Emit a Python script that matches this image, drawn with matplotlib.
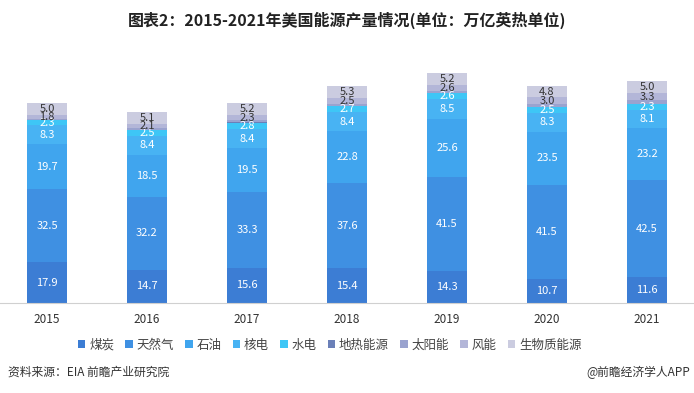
import numpy as np
import matplotlib
matplotlib.use('Agg')
import matplotlib.pyplot as plt

plt.rcParams['font.family'] = ['Noto Sans CJK SC', 'DejaVu Sans']

years = ['2015', '2016', '2017', '2018', '2019', '2020', '2021']
sources = ['煤炭', '天然气', '石油', '核电', '水电', '地热能源', '太阳能', '风能', '生物质能源']
coal = [17.9, 14.7, 15.6, 15.4, 14.3, 10.7, 11.6]
gas = [32.5, 32.2, 33.3, 37.6, 41.5, 41.5, 42.5]
oil = [19.7, 18.5, 19.5, 22.8, 25.6, 23.5, 23.2]
nuclear = [8.3, 8.4, 8.4, 8.4, 8.5, 8.3, 8.1]
hydro = [2.3, 2.5, 2.8, 2.7, 2.6, 2.5, 2.3]
geothermal = [0.2, 0.2, 0.2, 0.2, 0.2, 0.2, 0.2]
solar = [0.4, 0.6, 0.8, 0.9, 1.0, 1.2, 1.6]
wind = [1.8, 2.1, 2.3, 2.5, 2.6, 3.0, 3.3]
biomass = [5.0, 5.1, 5.2, 5.3, 5.2, 4.8, 5.0]

series = [coal, gas, oil, nuclear, hydro, geothermal, solar, wind, biomass]
colors = ['#3c7dd4', '#3f90e2', '#40a5ee', '#48b3f3', '#3ec6f6',
          '#6b80b8', '#9aa3cf', '#b3b6d8', '#cbcce0']
show_label = [True, True, True, True, True, False, False, True, True]
label_color = ['white', 'white', 'white', 'white', 'white', 'white', 'white', '#333333', '#333333']

fig = plt.figure(figsize=(6.94, 3.93), dpi=100)
ax = fig.add_axes([0, 0.229, 1, 0.634])

x = np.arange(len(years))
bottom = np.zeros(len(years))
for name, vals, c, show, lc in zip(sources, series, colors, show_label, label_color):
    vals = np.array(vals)
    ax.bar(x, vals, 0.4, bottom=bottom, color=c, label=name)
    if show:
        for xi, b, v in zip(x, bottom, vals):
            ax.text(xi, b + v / 2, '%.1f' % v, ha='center', va='center',
                    color=lc, fontsize=8, linespacing=1)
    bottom += vals

ax.set_xlim(-0.47, 6.47)
ax.set_ylim(0, 110)
ax.set_yticks([])
ax.set_xticks(x)
ax.set_xticklabels(years, fontsize=8.5, color='#333333')
ax.tick_params(axis='x', length=0, pad=7)
for s in ['top', 'left', 'right']:
    ax.spines[s].set_visible(False)
ax.spines['bottom'].set_color('#d0d0d0')

fig.text(0.5, 0.947, '图表2：2015-2021年美国能源产量情况(单位：万亿英热单位)',
         ha='center', va='center', fontsize=11.5, fontweight='bold', color='#222222')

fig.legend(loc='center', bbox_to_anchor=(0.475, 0.122), ncol=9, frameon=False,
           fontsize=9, handlelength=0.6, handleheight=0.6, handletextpad=0.3,
           columnspacing=0.9, labelcolor='#444444')

fig.text(0.012, 0.052, '资料来源：EIA 前瞻产业研究院', ha='left', va='center',
         fontsize=8.5, color='#333333')
fig.text(0.995, 0.052, '@前瞻经济学人APP', ha='right', va='center',
         fontsize=8.5, color='#333333')

fig.savefig('out.png', dpi=100)
